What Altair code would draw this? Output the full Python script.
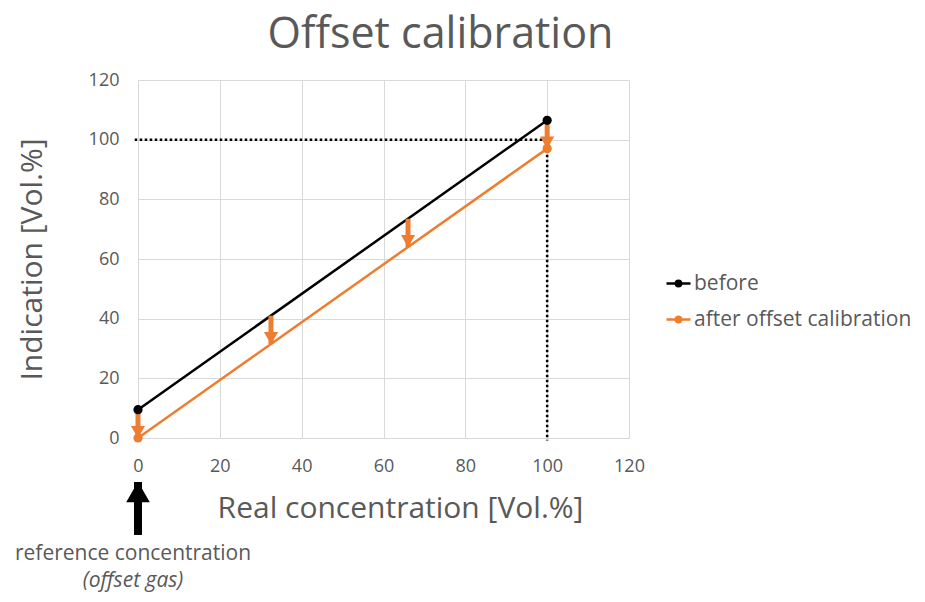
import altair as alt
import pandas as pd

# ---- data ----
series = ["before", "after offset calibration"]
colors = ["#000000", "#ED7D31"]
x_pts = [0, 100]
before_y = [9.5, 106.5]
after_y = [0, 97]

arrow_x = [0, 32.5, 66, 100]
arrow_top = [9.5, 41, 73.5, 106.5]
arrow_tip = [0, 31.5, 64, 97]

ref_x = [0, 100]          # dotted reference lines
ref_y = [100, 100]

ticks = [0, 20, 40, 60, 80, 100, 120]

below_arrow_x = [0]
below_arrow_tip = [-14.75]
below_arrow_bottom = [-32.5]
note_lines = ["reference concentration", "(offset gas)"]
note_y = [-39.0, -47.8]

FONT = "Open Sans"
GREY = "#595959"
ORANGE = colors[1]

lines_df = pd.DataFrame({
    "series": [series[0]] * 2 + [series[1]] * 2,
    "x": x_pts + x_pts,
    "y": before_y + after_y,
})
arrows_df = pd.DataFrame({"x": arrow_x, "top": arrow_top, "tip": arrow_tip})
hdot = pd.DataFrame({"x": [ref_x[0] - 0.8], "x2": [ref_x[1]], "y": [ref_y[0]]})
vdot = pd.DataFrame({"x": [ref_x[1]], "y": [ref_y[1]], "y2": [-0.8]})
below_df = pd.DataFrame({"x": below_arrow_x, "tip": below_arrow_tip, "bottom": below_arrow_bottom})
note_df = pd.DataFrame({"x": [0, 0], "y": note_y, "t": note_lines})

xscale = alt.Scale(domain=[0, 120], nice=False)
yscale = alt.Scale(domain=[0, 120], nice=False)
cscale = alt.Scale(domain=series, range=colors)

xaxis = alt.Axis(values=ticks, title="Real concentration [Vol.%]", grid=True, gridColor="#d9d9d9",
                 domainColor="#d9d9d9", ticks=False, labelFontSize=18, labelColor=GREY, labelFont=FONT,
                 labelPadding=19, labelFlush=False, titleFontSize=30, titleFont=FONT, titleColor=GREY,
                 titleFontWeight="normal", titleX=262, titleY=70, titleBaseline="middle", titleAlign="center")
yaxis = alt.Axis(values=ticks, title="Indication [Vol.%]", grid=True, gridColor="#d9d9d9",
                 domainColor="#d9d9d9", ticks=False, labelFontSize=18, labelColor=GREY, labelFont=FONT,
                 labelPadding=19, labelFlush=False, titleFontSize=30, titleFont=FONT, titleColor=GREY,
                 titleFontWeight="normal", titleX=-106, titleBaseline="middle", titleAlign="center")

legend_path = ("M-1,0L1,0M-0.22,0A0.22,0.22 0 1,0 0.22,0A0.22,0.22 0 1,0 -0.22,0Z")

base = alt.Chart(lines_df)

lines = base.mark_line(strokeWidth=2.5).encode(
    x=alt.X("x:Q", scale=xscale, axis=xaxis),
    y=alt.Y("y:Q", scale=yscale, axis=yaxis),
    color=alt.Color("series:N", scale=cscale, sort=series, legend=alt.Legend(
        title=None, orient="none", legendX=527, legendY=190, symbolType=legend_path,
        symbolSize=576, symbolStrokeWidth=2.5, labelFontSize=21, labelFont=FONT, labelColor=GREY,
        labelLimit=400, rowPadding=12, labelOffset=2)),
    detail="series:N",
)
points = base.mark_point(filled=True, size=85, opacity=1).encode(
    x="x:Q", y="y:Q", color=alt.Color("series:N", scale=cscale, legend=None))

hline = alt.Chart(hdot).mark_rule(color="black", strokeWidth=2.5, strokeDash=[2.5, 2.5]).encode(
    x="x:Q", x2="x2:Q", y="y:Q")
vline = alt.Chart(vdot).mark_rule(color="black", strokeWidth=2.5, strokeDash=[2.5, 2.5]).encode(
    x="x:Q", y="y:Q", y2="y2:Q")

shafts = alt.Chart(arrows_df).mark_rule(color=ORANGE, strokeWidth=5).encode(
    x="x:Q", y="top:Q", y2="tip:Q")
heads = alt.Chart(arrows_df).mark_point(shape="triangle-down", filled=True, size=200, color=ORANGE,
                                        opacity=1, yOffset=-6).encode(x="x:Q", y="tip:Q")

bshaft = alt.Chart(below_df).mark_rule(color="black", strokeWidth=8).encode(
    x="x:Q", y="tip:Q", y2="bottom:Q")
bhead = alt.Chart(below_df).mark_point(shape="triangle-up", filled=True, size=560, color="black",
                                       opacity=1, yOffset=10).encode(x="x:Q", y="tip:Q")

note1 = alt.Chart(note_df.iloc[[0]]).mark_text(fontSize=21, font=FONT, color=GREY, dx=-5,
                                               baseline="middle").encode(x="x:Q", y="y:Q", text="t:N")
note2 = alt.Chart(note_df.iloc[[1]]).mark_text(fontSize=21, font=FONT, color=GREY, dx=-5, fontStyle="italic",
                                               baseline="middle").encode(x="x:Q", y="y:Q", text="t:N")

chart = alt.layer(lines, hline, vline, shafts, heads, points, bshaft, bhead, note1, note2).properties(
    width=491, height=358,
    title=alt.TitleParams("Offset calibration", fontSize=43, font=FONT, color=GREY, fontWeight="normal",
                          anchor="middle", dx=57, offset=14),
    autosize=alt.AutoSizeParams(type="none"),
    padding={"left": 130, "top": 72, "right": 288, "bottom": 156},
).configure_view(stroke=None)

chart.save("out.html", embed_options={"renderer": "svg", "actions": False})
